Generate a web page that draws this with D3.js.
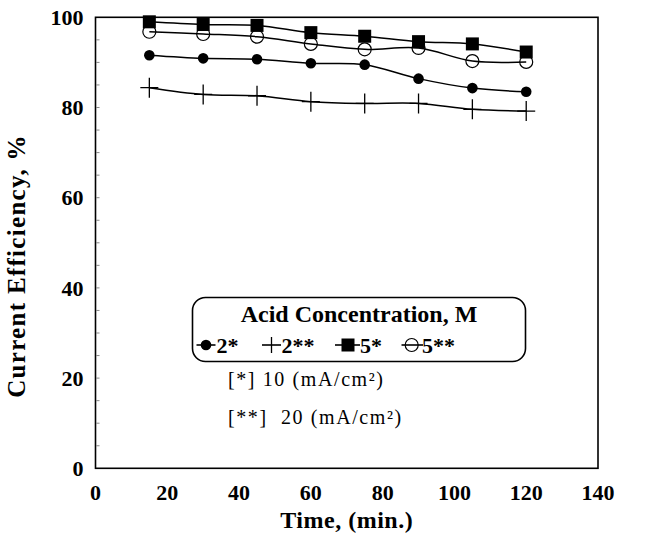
<!DOCTYPE html>
<html>
<head>
<meta charset="utf-8">
<script src="https://cdn.jsdelivr.net/npm/d3@7"></script>
<style>
  body { margin: 0; background: #fff; }
  text { font-family: "Liberation Serif", "Times New Roman", serif; fill: #000; }
</style>
</head>
<body>
<div id="chart"></div>
<script>
// data
var times = [15, 30, 45, 60, 75, 90, 105, 120];
var acid2a = [91.6, 90.9, 90.7, 89.8, 89.5, 86.4, 84.3, 83.5];   // 2*  (10 mA/cm2)
var acid2b = [84.4, 82.9, 82.6, 81.3, 80.9, 80.9, 79.6, 79.2];   // 2** (20 mA/cm2)
var acid5a = [99.0, 98.4, 98.2, 96.6, 95.8, 94.6, 94.1, 92.3];   // 5*
var acid5b = [96.8, 96.3, 95.7, 94.1, 92.9, 93.2, 90.3, 90.1];   // 5**
var xTicks = [0, 20, 40, 60, 80, 100, 120, 140];
var yTicks = [0, 20, 40, 60, 80, 100];

var W = 648, H = 542;
var margin = {top: 17.3, right: 50, bottom: 73.7, left: 95.5},
    width = W - margin.left - margin.right,
    height = H - margin.top - margin.bottom;

var x = d3.scaleLinear().domain([0, 140]).range([0, width]);
var y = d3.scaleLinear().domain([0, 100]).range([height, 0]);

var svg = d3.select("#chart").append("svg")
    .attr("width", W).attr("height", H);
var g = svg.append("g")
    .attr("transform", "translate(" + margin.left + "," + margin.top + ")");

// small inner ticks on the y axis, every 5
g.selectAll(".minor")
  .data(d3.range(5, 100, 5))
  .enter().append("line")
  .attr("x1", 1).attr("x2", 4)
  .attr("y1", function(d) { return y(d); })
  .attr("y2", function(d) { return y(d); })
  .attr("stroke", "#888").attr("stroke-width", 1);

// frame
g.append("rect")
  .attr("width", width).attr("height", height)
  .attr("fill", "none").attr("stroke", "#000").attr("stroke-width", 1.6);

// tick labels
g.selectAll(".ylab").data(yTicks).enter().append("text")
  .attr("x", -12).attr("y", function(d) { return y(d); })
  .attr("dy", "0.35em").attr("text-anchor", "end")
  .attr("font-size", 22).attr("font-weight", "bold")
  .text(function(d) { return d; });

g.selectAll(".xlab").data(xTicks).enter().append("text")
  .attr("x", function(d) { return x(d); }).attr("y", height + 32)
  .attr("text-anchor", "middle")
  .attr("font-size", 22).attr("font-weight", "bold")
  .text(function(d) { return d; });

// axis titles
g.append("text")
  .attr("x", width / 2).attr("y", height + 60)
  .attr("text-anchor", "middle")
  .attr("font-size", 24).attr("font-weight", "bold")
  .attr("letter-spacing", 0.5)
  .text("Time, (min.)");

svg.append("text")
  .attr("transform", "translate(25,266) rotate(-90)")
  .attr("text-anchor", "middle")
  .attr("font-size", 25).attr("font-weight", "bold")
  .attr("letter-spacing", 1.3)
  .text("Current Efficiency, %");

// smoothed lines
var series = [
  {key: "2*", vals: acid2a, mark: "dot"},
  {key: "2**", vals: acid2b, mark: "plus"},
  {key: "5**", vals: acid5b, mark: "ring"},
  {key: "5*", vals: acid5a, mark: "square"}
];

var line = d3.line()
  .x(function(d) { return x(d[0]); })
  .y(function(d) { return y(d[1]); })
  .curve(d3.curveCatmullRom.alpha(0.5));

function drawMark(sel, type) {
  if (type == "dot") {
    sel.append("circle").attr("r", 5.3).attr("fill", "#000");
  } else if (type == "ring") {
    sel.append("circle").attr("r", 6.5).attr("fill", "none")
      .attr("stroke", "#000").attr("stroke-width", 1.2);
  } else if (type == "square") {
    sel.append("rect").attr("x", -6.5).attr("y", -6.5)
      .attr("width", 13).attr("height", 13).attr("fill", "#000");
  } else {
    sel.append("path").attr("d", "M-9,0H9M0,-10V10")
      .attr("stroke", "#000").attr("stroke-width", 1.3);
  }
}

series.forEach(function(s) {
  var pts = times.map(function(t, i) { return [t, s.vals[i]]; });
  g.append("path").datum(pts)
    .attr("d", line)
    .attr("fill", "none").attr("stroke", "#000").attr("stroke-width", 1.5);
});

series.forEach(function(s) {
  var pts = times.map(function(t, i) { return [t, s.vals[i]]; });
  var m = g.selectAll(null).data(pts).enter().append("g")
    .attr("transform", function(d) { return "translate(" + x(d[0]) + "," + y(d[1]) + ")"; });
  drawMark(m, s.mark);
});

// legend
var leg = svg.append("g");
leg.append("rect")
  .attr("x", 192.5).attr("y", 297.5).attr("width", 333).attr("height", 64)
  .attr("rx", 13).attr("ry", 13)
  .attr("fill", "#fff").attr("stroke", "#000").attr("stroke-width", 1.6);
leg.append("text")
  .attr("x", 359).attr("y", 322)
  .attr("text-anchor", "middle")
  .attr("font-size", 24).attr("font-weight", "bold")
  .text("Acid Concentration, M");

var legItems = [
  {label: "2*", mark: "dot", cx: 206, x1: 196.5, x2: 215.5, tx: 216.5},
  {label: "2**", mark: "plus", cx: 271.5, x1: 262, x2: 281, tx: 281.5},
  {label: "5*", mark: "square", cx: 348, x1: 335, x2: 360, tx: 360},
  {label: "5**", mark: "ring", cx: 411.7, x1: 401.5, x2: 423, tx: 422}
];
legItems.forEach(function(d) {
  var it = leg.append("g");
  it.append("line").attr("x1", d.x1).attr("x2", d.x2)
    .attr("y1", 345).attr("y2", 345)
    .attr("stroke", "#000").attr("stroke-width", 1.6);
  var m = it.append("g").attr("transform", "translate(" + d.cx + ",345)");
  if (d.mark != "plus") drawMark(m, d.mark);
  else m.append("path").attr("d", "M0,-8V8").attr("stroke", "#000").attr("stroke-width", 1.3);
  it.append("text").attr("x", d.tx).attr("y", 353)
    .attr("font-size", 22).attr("font-weight", "bold")
    .text(d.label);
});

// current density notes
svg.append("text").attr("x", 228).attr("y", 386)
  .attr("font-size", 20).attr("letter-spacing", 1.6)
  .style("white-space", "pre")
  .text("[*] 10 (mA/cm²)");
svg.append("text").attr("x", 228).attr("y", 424)
  .attr("font-size", 20).attr("letter-spacing", 1.6)
  .style("white-space", "pre")
  .text("[**]  20 (mA/cm²)");
</script>
</body>
</html>
